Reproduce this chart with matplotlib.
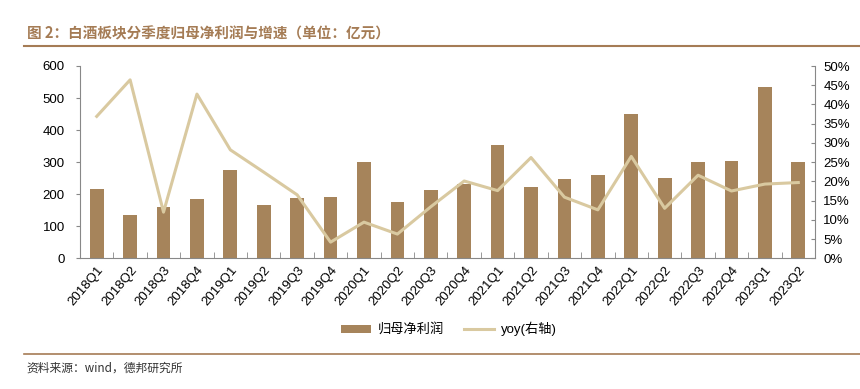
import matplotlib
matplotlib.use("Agg")
import matplotlib.pyplot as plt
from matplotlib.ticker import FuncFormatter, MultipleLocator
import numpy as np

plt.rcParams['font.family'] = ['Liberation Sans', 'Noto Sans CJK SC', 'DejaVu Sans']

quarters = ["2018Q1", "2018Q2", "2018Q3", "2018Q4", "2019Q1", "2019Q2", "2019Q3", "2019Q4",
            "2020Q1", "2020Q2", "2020Q3", "2020Q4", "2021Q1", "2021Q2", "2021Q3", "2021Q4",
            "2022Q1", "2022Q2", "2022Q3", "2022Q4", "2023Q1", "2023Q2"]
net_profit = [215, 135, 161, 185, 277, 167, 187, 191, 302, 177, 212, 231,
              355, 223, 247, 259, 449, 252, 299, 305, 535, 301]
yoy = [36.9, 46.4, 12.0, 42.7, 28.2, 22.4, 16.5, 4.2, 9.4, 6.3, 13.4, 20.1,
       17.6, 26.2, 15.9, 12.6, 26.5, 13.0, 21.6, 17.5, 19.3, 19.7]

bar_color = "#A6845B"
line_color = "#D9C9A0"
brown = "#A57C55"

fig = plt.figure(figsize=(8.6, 3.89), dpi=100)
ax = fig.add_axes([80/860, 1-258.3/389, (815-80)/860, (258.3-66)/389])
x = np.arange(len(quarters))
ax.bar(x, net_profit, width=0.41, color=bar_color, label="归母净利润", zorder=2)
ax.set_xlim(-0.5, len(quarters)-0.5)
ax.set_ylim(0, 600)
ax.yaxis.set_major_locator(MultipleLocator(100))

ax2 = ax.twinx()
ax2.plot(x, yoy, color=line_color, lw=2.2, label="yoy(右轴)", zorder=3)
ax2.set_ylim(0, 50)
ax2.yaxis.set_major_locator(MultipleLocator(5))
ax2.yaxis.set_major_formatter(FuncFormatter(lambda v, p: f"{int(round(v))}%"))

for a in (ax, ax2):
    a.spines['top'].set_visible(False)
    for s in ('left', 'right', 'bottom'):
        a.spines[s].set_color("#888888")
        a.spines[s].set_linewidth(0.8)
ax.spines['right'].set_visible(False)
ax2.spines['left'].set_visible(False)
ax2.spines['bottom'].set_visible(False)

ax.set_xticks(x)
ax.set_xticklabels(quarters, rotation=50, ha='right', rotation_mode='anchor', fontsize=9.5)
ax.set_xticks(np.arange(-0.5, len(quarters), 1), minor=True)
ax.tick_params(axis='x', which='major', length=0, pad=4)
ax.tick_params(axis='x', which='minor', length=4, direction='in', color="#888888")
ax.tick_params(axis='y', labelsize=9.5, length=3, direction='out', color="#888888", pad=8)
ax2.tick_params(axis='y', labelsize=9.5, length=3, direction='in', color="#888888", pad=6)

h1, l1 = ax.get_legend_handles_labels()
h2, l2 = ax2.get_legend_handles_labels()
leg = fig.legend(h1 + h2, l1 + l2, loc='center', bbox_to_anchor=(449/860, 1-329/389), ncol=2,
                 frameon=False, handlelength=2.3, handleheight=0.55, handletextpad=0.5,
                 columnspacing=1.5,
                 prop={'family': ['Liberation Sans', 'Noto Sans CJK SC'], 'size': 9.5})

fig.text(27/860, 1-33/389, "图 2：白酒板块分季度归母净利润与增速（单位：亿元）", color=brown,
         fontsize=10.5, fontweight='bold', va='center', ha='left',
         family=['Noto Sans CJK SC', 'DejaVu Sans'])
fig.add_artist(plt.Line2D([24/860, 1.0], [1-46/389, 1-46/389], color=brown, lw=1.5))
fig.add_artist(plt.Line2D([24/860, 1.0], [1-354/389, 1-354/389], color=brown, lw=1.2))
fig.text(26/860, 1-368/389, "资料来源：wind，德邦研究所", color="#333333", fontsize=8.5,
         va='center', ha='left', family=['Noto Sans CJK SC', 'DejaVu Sans'])

fig.savefig("out.png", dpi=100)
